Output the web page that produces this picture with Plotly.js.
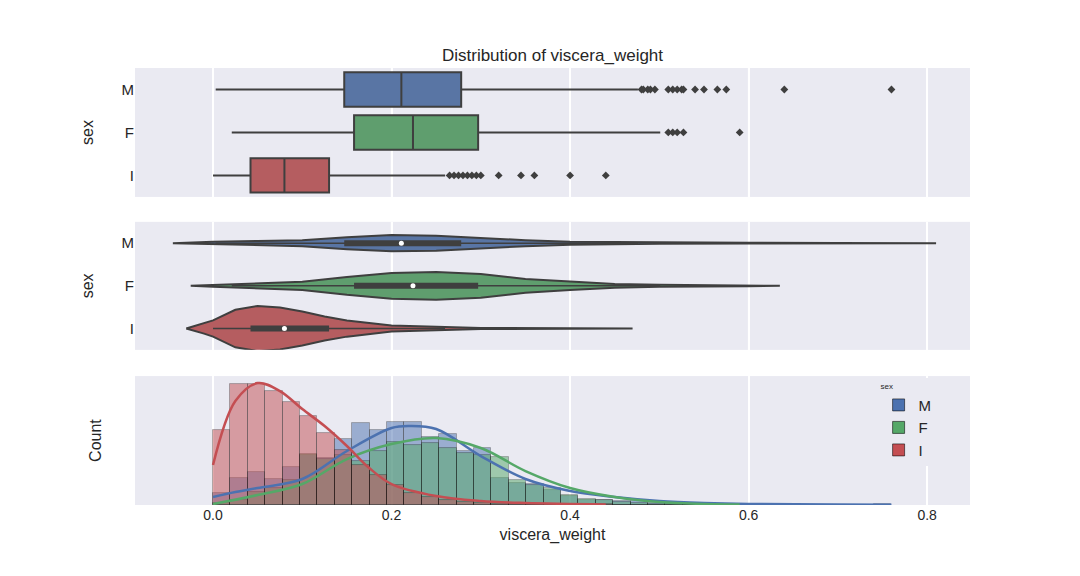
<!DOCTYPE html>
<html><head><script src="https://cdn.plot.ly/plotly-3.0.1.min.js"></script>
<style>body{margin:0}</style></head><body><div id="c" style="width:1080px;height:576px"></div>
<script>
const sexes=['M','F','I'];
const colors=['#4C72B0','#55A868','#C44E52'];
const boxFill=['#5975A4','#5F9E6E','#B55D60'];
// box stats
const q1=[0.147,0.158,0.042], med=[0.211,0.224,0.080], q3=[0.278,0.297,0.130];
const lowF=[0.003,0.021,0.000], upF=[0.476,0.501,0.260];
const outM=[0.48,0.482,0.487,0.49,0.495,0.51,0.515,0.52,0.525,0.527,0.54,0.55,0.565,0.575,0.64,0.76];
const outF=[0.51,0.515,0.52,0.527,0.59];
const outI=[0.265,0.27,0.275,0.28,0.285,0.29,0.295,0.30,0.32,0.345,0.36,0.40,0.44];
// violin half-widths (category units)
const vxM=[-0.045,0.0,0.05,0.1,0.15,0.2,0.25,0.3,0.35,0.4,0.5,0.6,0.7,0.81];
const vwM=[0,0.035,0.05,0.07,0.14,0.19,0.175,0.12,0.07,0.035,0.016,0.008,0.004,0];
const vxF=[-0.025,0.0,0.05,0.1,0.15,0.2,0.25,0.3,0.35,0.4,0.45,0.5,0.6,0.635];
const vwF=[0,0.02,0.05,0.095,0.21,0.3,0.325,0.28,0.16,0.095,0.045,0.023,0.007,0];
const vxI=[-0.03,-0.01,0.0,0.025,0.05,0.075,0.1,0.125,0.15,0.2,0.25,0.3,0.4,0.47];
const vwI=[0,0.12,0.19,0.44,0.53,0.49,0.4,0.28,0.19,0.07,0.035,0.014,0.005,0];
// histogram
const binW=0.76/39;
const histM=[12,27,33,26,38,50,47,66,82,75,83,83,68,71,54,57,27,22,21,15,9,5,5,4,4,2,2,1,1,0,0,0,1,0,0,0,0,0,1];
const histF=[2,5,13,17,25,51,46,50,44,54,63,60,62,57,52,50,48,25,20,17,10,6,5,3,2,1,1,0,0,0,1,0,0,0,0,0,0,0,0];
const histI=[75,121,121,114,103,89,72,55,40,30,20,12,8,5,3,2,1,1,0,1,0,0,1,0,0,0,0,0,0,0,0,0,0,0,0,0,0,0,0];
// kde curves
const kxM=[0,0.025,0.05,0.1,0.15,0.2,0.22,0.25,0.3,0.35,0.4,0.45,0.5,0.55,0.6,0.7,0.76];
const kyM=[8,13,17,26,54,77,79,76,49,26,14,8,4,2,1,0.5,0.3];
const kxF=[0,0.05,0.1,0.15,0.2,0.25,0.3,0.35,0.4,0.45,0.5,0.55,0.59];
const kyF=[1,10,21,46,61,67,57,34,17,8,3,1,0.5];
const kxI=[0,0.025,0.05,0.075,0.1,0.125,0.15,0.175,0.2,0.25,0.3,0.35,0.44];
const kyI=[40,104,122,114,96,79,59,37,21,9,4,2,0.5];

const G='#3f3f3f';
const traces=[];
const outs=[outM,outF,outI];
for(let i=0;i<3;i++){
  traces.push({type:'box',orientation:'h',y:[i],q1:[q1[i]],median:[med[i]],q3:[q3[i]],lowerfence:[lowF[i]],upperfence:[upF[i]],
    width:0.8,fillcolor:boxFill[i],line:{color:G,width:2},whiskerwidth:0,boxpoints:false,xaxis:'x',yaxis:'y',showlegend:false,hoverinfo:'skip'});
  traces.push({type:'scatter',mode:'markers',x:outs[i],y:outs[i].map(()=>i),marker:{symbol:'diamond',size:6,color:G},xaxis:'x',yaxis:'y',showlegend:false});
}
const vx=[vxM,vxF,vxI], vw=[vwM,vwF,vwI];
for(let i=0;i<3;i++){
  const xs=vx[i].concat(vx[i].slice().reverse());
  const ys=vw[i].map(w=>i-w).concat(vw[i].slice().reverse().map(w=>i+w));
  traces.push({type:'scatter',mode:'lines',x:xs,y:ys,fill:'toself',fillcolor:boxFill[i],line:{color:G,width:2},xaxis:'x',yaxis:'y2',showlegend:false});
  traces.push({type:'scatter',mode:'lines',x:[lowF[i],upF[i]],y:[i,i],line:{color:G,width:1.5},xaxis:'x',yaxis:'y2',showlegend:false});
  traces.push({type:'scatter',mode:'lines',x:[q1[i],q3[i]],y:[i,i],line:{color:G,width:6},xaxis:'x',yaxis:'y2',showlegend:false});
  traces.push({type:'scatter',mode:'markers',x:[med[i]],y:[i],marker:{color:'white',size:5},xaxis:'x',yaxis:'y2',showlegend:false});
}
const hs=[histM,histF,histI];
for(let i=0;i<3;i++){
  traces.push({type:'bar',x:hs[i].map((_,k)=>(k+0.5)*binW),y:hs[i],width:binW,name:sexes[i],
    marker:{color:colors[i],opacity:0.5,line:{color:'rgba(0,0,0,0.55)',width:1}},xaxis:'x',yaxis:'y3'});
}
const kx=[kxM,kxF,kxI], ky=[kyM,kyF,kyI];
for(let i=0;i<3;i++){
  traces.push({type:'scatter',mode:'lines',x:kx[i],y:ky[i],line:{color:colors[i],width:2.5,shape:'spline'},xaxis:'x',yaxis:'y3',showlegend:false});
}
const catAxis=(dom)=>({domain:dom,range:[2.5,-0.5],tickvals:[0,1,2],ticktext:sexes,showgrid:false,zeroline:false,
  title:{text:'sex',font:{size:16}},tickfont:{size:15},ticks:''});
const layout={
  width:1080,height:576,margin:{l:135,r:110,t:68,b:71},paper_bgcolor:'white',plot_bgcolor:'#EAEAF2',
  font:{family:'Liberation Sans, Arial',color:'#262626'},
  title:{text:'Distribution of viscera_weight',font:{size:17},x:0.5,xref:'paper',y:0.905,yanchor:'middle'},
  barmode:'overlay',bargap:0,
  xaxis:{range:[-0.0874,0.848],tickvals:[0,0.2,0.4,0.6,0.8],ticktext:['0.0','0.2','0.4','0.6','0.8'],gridcolor:'white',gridwidth:1.5,zeroline:false,
    anchor:'y3',tickfont:{size:14},title:{text:'viscera_weight',font:{size:16},standoff:6}},
  xaxis2:{overlaying:'x'},
  yaxis:catAxis([0.705,1]),
  yaxis2:catAxis([0.355,0.648]),
  yaxis3:{domain:[0,0.295],range:[0,129],showticklabels:false,showgrid:false,zeroline:false,title:{text:'Count',font:{size:16}}},
  legend:{x:0.96,xanchor:'right',y:0.29,yanchor:'top',bgcolor:'#EAEAF2',font:{size:15},title:{text:'sex',font:{size:8}}},
  shapes:[0,0.2,0.4,0.6,0.8].flatMap(v=>[
    {type:'line',xref:'x',yref:'y domain',x0:v,x1:v,y0:0,y1:1,line:{color:'white',width:1.5},layer:'below'},
    {type:'line',xref:'x',yref:'y2 domain',x0:v,x1:v,y0:0,y1:1,line:{color:'white',width:1.5},layer:'below'}])
};
Plotly.newPlot('c',traces,layout,{displayModeBar:false});
</script></body></html>
